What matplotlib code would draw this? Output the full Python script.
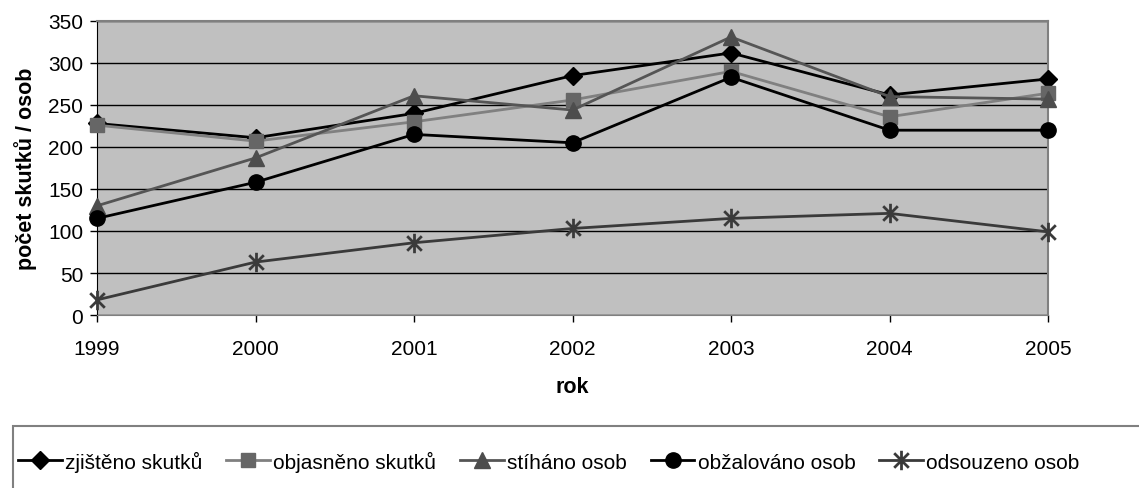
import numpy as np
import matplotlib.pyplot as plt
from matplotlib.patches import Rectangle
from matplotlib.path import Path

plt.rcParams['font.family'] = ['Liberation Sans', 'DejaVu Sans']

years = [1999, 2000, 2001, 2002, 2003, 2004, 2005]
zjisteno = [228, 211, 240, 285, 312, 262, 281]
objasneno = [226, 207, 230, 256, 290, 236, 264]
stihano = [130, 187, 261, 244, 331, 260, 257]
obzalovano = [115, 158, 215, 205, 283, 220, 220]
odsouzeno = [18, 63, 86, 103, 115, 121, 99]

names = ['zjištěno skutků', 'objasněno skutků', 'stíháno osob',
         'obžalováno osob', 'odsouzeno osob']

# asterisk like Excel: an X plus a vertical stroke
star = Path([(0, -1), (0, 1), (-0.75, -0.75), (0.75, 0.75), (-0.75, 0.75), (0.75, -0.75)],
            [Path.MOVETO, Path.LINETO, Path.MOVETO, Path.LINETO, Path.MOVETO, Path.LINETO])

fig = plt.figure(figsize=(11.39, 4.89), dpi=100)
ax = fig.add_axes([97 / 1139, 1 - 316 / 489, (1048 - 97) / 1139, (316 - 22) / 489])
ax.set_facecolor('#c0c0c0')

# line colour, marker colour, marker, size
styles = [
    ('#000000', '#000000', 'D', 9.5),
    ('#808080', '#666666', 's', 10.5),
    ('#555555', '#4d4d4d', '^', 12),
    ('#000000', '#000000', 'o', 11),
    ('#3a3a3a', '#3a3a3a', star, 14),
]
series = [zjisteno, objasneno, stihano, obzalovano, odsouzeno]
for vals, name, (lc, mc, mk, ms) in zip(series, names, styles):
    ax.plot(years, vals, color=lc, lw=2, marker=mk, markersize=ms,
            markerfacecolor=mc, markeredgecolor=mc, markeredgewidth=2 if mk is star else 1,
            label=name, clip_on=False, zorder=3)

ax.set_xlim(1999, 2005)
ax.set_ylim(0, 350)
ax.set_xticks(years)
ax.set_yticks(np.arange(0, 351, 50))
ax.yaxis.grid(True, color='black', lw=1)
ax.set_axisbelow(True)
ax.tick_params(labelsize=15, length=5, width=1, direction='out', pad=5)
ax.tick_params(axis='x', pad=12)
for s in ['top', 'right']:
    ax.spines[s].set_color('#808080')
    ax.spines[s].set_linewidth(1.5)
ax.spines['left'].set_color('black')
ax.spines['bottom'].set_color('#808080')
ax.set_xlabel('rok', fontsize=15.5, fontweight='bold', labelpad=13)
ax.set_ylabel('počet skutků / osob', fontsize=15.5, fontweight='bold', labelpad=8)

fig.patches.append(Rectangle((13 / 1139, -0.05), 1.0, 1 - 427 / 489 + 0.05,
                             transform=fig.transFigure, fill=False,
                             edgecolor='#808080', lw=1.5))
fig.legend(loc='center left', bbox_to_anchor=(18 / 1139, 1 - 462 / 489), ncol=5,
           frameon=False, fontsize=15, handlelength=2.1, columnspacing=1.15,
           handletextpad=0.15, borderaxespad=0, borderpad=0)

fig.savefig('out.png', dpi=100)
